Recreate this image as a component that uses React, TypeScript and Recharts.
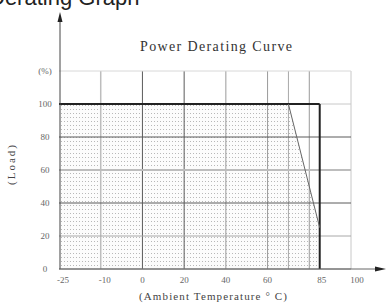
import React from 'react';
import { ComposedChart, Area, Line, XAxis, YAxis, ReferenceLine } from 'recharts';

// ---- data ----
const xTickTemps = [-25, -10, 0, 20, 40, 60, 85, 100];
const xTickLabels = ['-25', '-10', '0', '20', '40', '60', '85', '100'];
const yTicks = [0, 20, 40, 60, 80, 100, 120];
const yTickLabels = ['0', '20', '40', '60', '80', '100', '(%)'];
const curveTemps = [-25, 70, 85, 85];
const curveLoads = [100, 100, 25, 0];
const slopeTemps = [70, 85];
const slopeLoads = [100, 25];
const xGridTemps = [-10, 0, 20, 40, 60, 70, 80, 100];
const yGridLoads = [20, 40, 60, 80, 120];

// the axis draws the negative range compressed: -25 and -10 occupy one grid slot each
const axisKnotsTemp = [-25, -10, 0, 100];
const axisKnotsPos = [-40, -20, 0, 100];
function pos(t: number): number {
  for (let i = 0; i < axisKnotsTemp.length - 1; i++) {
    const a = axisKnotsTemp[i], b = axisKnotsTemp[i + 1];
    if (t <= b || i === axisKnotsTemp.length - 2) {
      const f = (t - a) / (b - a);
      return axisKnotsPos[i] + f * (axisKnotsPos[i + 1] - axisKnotsPos[i]);
    }
  }
  return t;
}

const curveData = curveTemps.map((t, i) => ({ x: pos(t), load: curveLoads[i] }));
const slopeData = slopeTemps.map((t, i) => ({ x: pos(t), load: slopeLoads[i] }));

const vStyle: Record<number, { c: string; w: number }> = {
  [-10]: { c: '#bdbdbd', w: 1.5 },
  0: { c: '#5a5a5a', w: 1 },
  20: { c: '#5a5a5a', w: 1 },
  40: { c: '#9a9a9a', w: 1 },
  60: { c: '#9a9a9a', w: 1 },
  70: { c: '#a8a8a8', w: 1 },
  80: { c: '#9a9a9a', w: 1 },
  100: { c: '#c8c8c8', w: 1 },
};
const hStyle: Record<number, { c: string; w: number }> = {
  20: { c: '#a8a8a8', w: 1 },
  40: { c: '#5a5a5a', w: 1 },
  60: { c: '#bdbdbd', w: 2 },
  80: { c: '#5a5a5a', w: 1 },
  120: { c: '#d8d8d8', w: 1 },
};

const serif = '"Liberation Serif", "DejaVu Serif", serif';

const XTick = (props: any) => {
  const { x, y, index } = props;
  const label = xTickLabels[index];
  let dx = 0;
  if (label.startsWith('-')) dx = 4;
  if (label === '85') dx = 2;
  if (label === '100') dx = 6;
  return (
    <text x={x + dx} y={y + 6} textAnchor="middle" fontSize={9} fill="#666" fontFamily={serif}>
      {label}
    </text>
  );
};

const YTick = (props: any) => {
  const { y, index } = props;
  return (
    <text x={45} y={y + 3} textAnchor="middle" fontSize={9} fill="#666" fontFamily={serif}>
      {yTickLabels[index]}
    </text>
  );
};

export default function App() {
  return (
    <div style={{ position: 'absolute', left: 0, top: 0, width: 386, height: 306, background: '#fff' }}>
      <svg width={0} height={0} style={{ position: 'absolute' }}>
        <defs>
          <pattern id="dots" width={3} height={4} patternUnits="userSpaceOnUse">
            <rect x={0} y={0} width={3} height={4} fill="#fcfcfc" />
            <rect x={1} y={1} width={1} height={1} fill="#b8b8b8" />
          </pattern>
        </defs>
      </svg>
      <ComposedChart
        width={386}
        height={306}
        margin={{ top: 71, right: 35, bottom: 0, left: 0 }}
        style={{ position: 'absolute', left: 0, top: 0 }}
      >
        <XAxis
          type="number"
          dataKey="x"
          domain={[pos(-25), pos(100)]}
          ticks={xTickTemps.map(pos)}
          interval={0}
          axisLine={false}
          tickLine={false}
          height={37}
          tick={<XTick />}
          allowDataOverflow
        />
        <YAxis
          type="number"
          domain={[0, 120]}
          ticks={yTicks}
          interval={0}
          axisLine={false}
          tickLine={false}
          width={59}
          tick={<YTick />}
        />
        <Area
          data={curveData}
          dataKey="load"
          type="linear"
          fill="url(#dots)"
          fillOpacity={1}
          stroke="none"
          isAnimationActive={false}
        />
        {xGridTemps.map((t) => (
          <ReferenceLine key={'v' + t} x={pos(t)} stroke={vStyle[t].c} strokeWidth={vStyle[t].w} />
        ))}
        {yGridLoads.map((l) => (
          <ReferenceLine key={'h' + l} y={l} stroke={hStyle[l].c} strokeWidth={hStyle[l].w} />
        ))}
        <ReferenceLine
          segment={[{ x: pos(85), y: 100 }, { x: pos(100), y: 100 }]}
          stroke="#c8c8c8"
          strokeWidth={1}
        />
        <ReferenceLine y={0} stroke="#888" strokeWidth={1} />
        <ReferenceLine
          segment={[{ x: pos(-25), y: 100 }, { x: pos(85), y: 100 }]}
          stroke="#222"
          strokeWidth={2}
        />
        <ReferenceLine
          segment={[{ x: pos(85), y: 0 }, { x: pos(85), y: 100 }]}
          stroke="#222"
          strokeWidth={2}
        />
        <Line
          data={slopeData}
          dataKey="load"
          type="linear"
          stroke="#666"
          strokeWidth={1}
          dot={false}
          isAnimationActive={false}
        />
      </ComposedChart>
      <svg width={386} height={306} style={{ position: 'absolute', left: 0, top: 0, pointerEvents: 'none' }}>
        <text x={-11} y={5} fontSize={22} fill="#222" fontFamily='"Liberation Sans", Arial, sans-serif'>
          Derating Graph
        </text>
        <line x1={60} y1={20} x2={60} y2={269} stroke="#444" strokeWidth={1} />
        <polygon points="60,12 57.5,22 62.5,22" fill="#222" />
        <line x1={59} y1={269} x2={376} y2={269} stroke="#666" strokeWidth={1} />
        <polygon points="386,269 375,266.5 375,271.5" fill="#222" />
        <text x={140} y={51} fontSize={14} fill="#333" fontFamily={serif} textLength={152} lengthAdjust="spacing">
          Power Derating Curve
        </text>
        <text x={139} y={300} fontSize={11} fill="#444" fontFamily={serif} textLength={148} lengthAdjust="spacing">
          (Ambient Temperature ° C)
        </text>
        <text
          x={0}
          y={0}
          fontSize={11}
          fill="#444"
          fontFamily={serif}
          textAnchor="middle"
          transform="translate(15,165) rotate(-90)"
          textLength={40}
          lengthAdjust="spacing"
        >
          (Load)
        </text>
      </svg>
    </div>
  );
}
